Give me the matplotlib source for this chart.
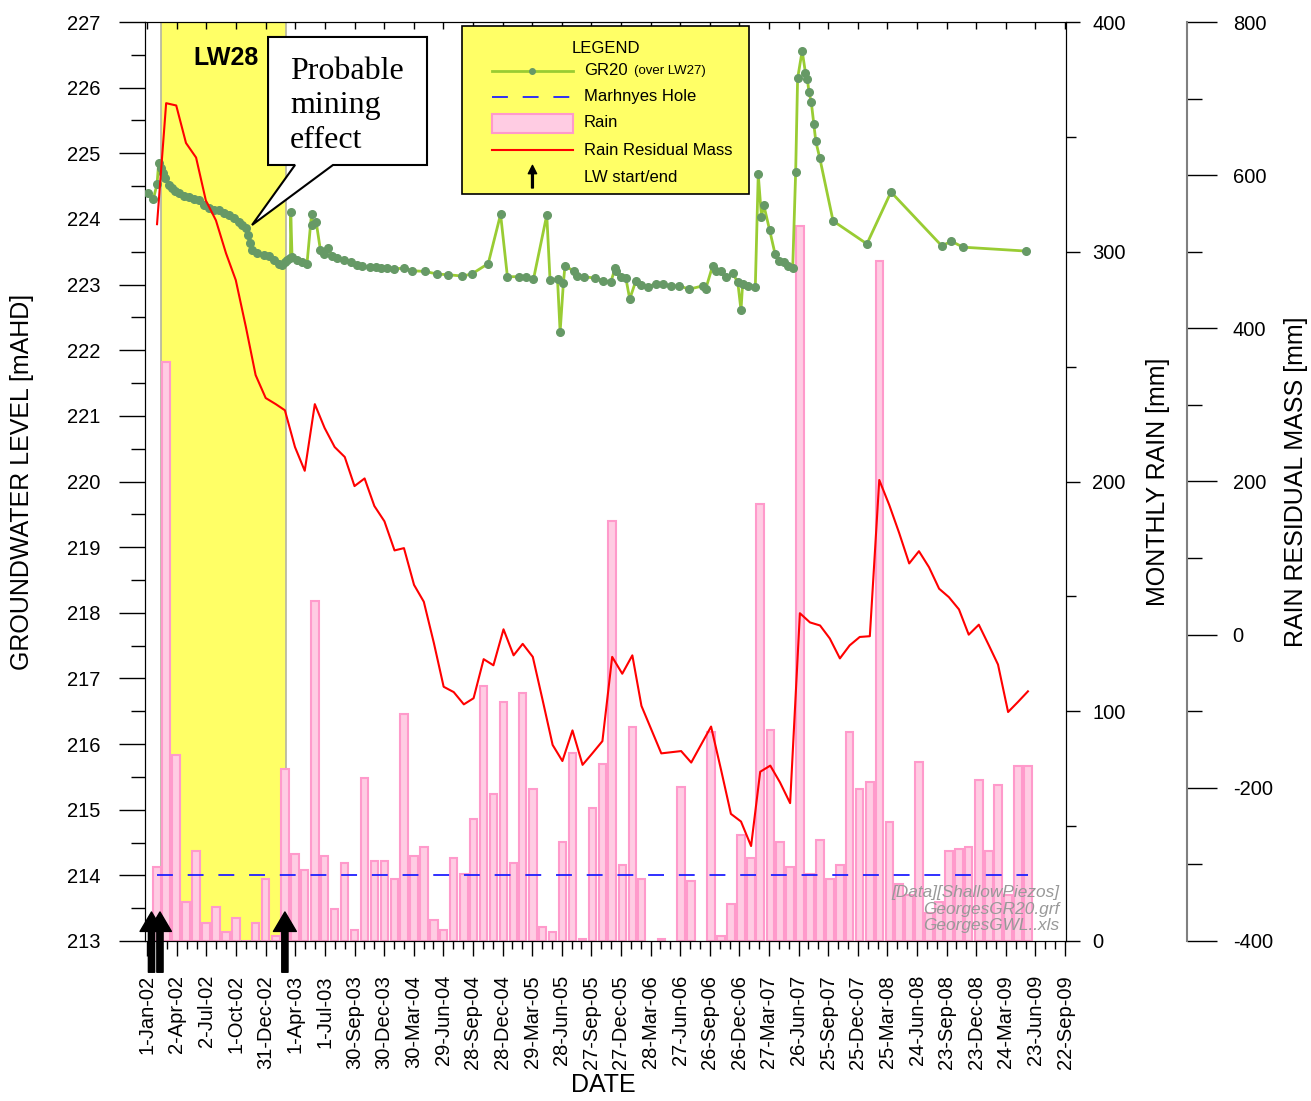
import numpy as np
import pandas as pd
import matplotlib
matplotlib.use("Agg")
import matplotlib.pyplot as plt
import matplotlib.dates as mdates
from matplotlib.patches import Rectangle, Polygon
from matplotlib.lines import Line2D
from matplotlib.ticker import MultipleLocator, FixedLocator, FuncFormatter

plt.rcParams['font.family'] = ['Liberation Sans', 'DejaVu Sans']
plt.rcParams['axes.unicode_minus'] = False

# monthly rain [mm], one value per month from Jan 2002 (None = no record)
rain_start = '2002-01-31'
rain_mm = [32, 252, 81, 17, 39, 8, 15, 4, 10, 0, 8, 27,
           2, 75, 38, 31, 148, 37, 14, 34, 5, 71, 35, 35,
           27, 99, 37, 41, 9, 5, 36, 29, 53, 111, 64, 104,
           34, 108, 66, 6, 4, 43, 82, 1, 58, 77, 183, 33,
           93, 27, None, 1, None, 67, 26, None, 91, 2, 16, 46,
           36, 190, 92, 43, 32, 311, 29, 44, 27, 33, 91, 66,
           69, 296, 52, 25, 20, 78, 12, 17, 39, 40, 41, 70,
           39, 68, 20, 76, 76]

# rain residual mass [mm], same months
residual_mm = [536, 694, 691, 642, 623, 567, 541, 498, 463, 402, 339, 309,
               301, 293, 245, 214, 301, 270, 245, 232, 194, 204, 168, 148,
               110, 113, 65, 43, -11, -68, -75, -91, -83, -32, -40, 7,
               -27, -12, -29, -85, -144, -165, -125, -170, -155, -139, -29, -51,
               -27, -93, None, -155, None, -152, -167, None, -120, -177, -234, -244,
               -276, -179, -171, -193, -220, 28, 16, 12, -5, -31, -14, -3,
               -2, 202, 169, 133, 93, 109, 88, 60, 49, 33, 0, 13,
               -14, -39, -101, -88, -74]

# GR20 piezometer, days since 1-Jan-2002 and level [mAHD]
gr20_day = [1, 19, 30, 35, 42, 48, 55, 66, 76, 86,
            96, 112, 127, 143, 158, 173, 189, 204, 219, 235,
            250, 266, 281, 291, 302, 309, 315, 322, 338, 358,
            373, 389, 404, 415, 422, 430, 440, 441, 445, 461,
            476, 491, 505, 507, 519, 532, 543, 555, 568, 584,
            604, 625, 645, 661, 686, 702, 717, 738, 758, 789,
            815, 855, 891, 924, 968, 997, 1048, 1086, 1107, 1143,
            1163, 1187, 1228, 1238, 1261, 1269, 1279, 1284, 1312, 1322,
            1341, 1376, 1402, 1425, 1438, 1440, 1455, 1471, 1483, 1502,
            1517, 1538, 1563, 1584, 1609, 1635, 1666, 1707, 1717, 1738,
            1748, 1763, 1779, 1799, 1815, 1825, 1830, 1845, 1869, 1878,
            1888, 1895, 1913, 1930, 1943, 1956, 1968, 1984, 1993, 1999,
            2013, 2023, 2029, 2034, 2041, 2049, 2055, 2067, 2108, 2212,
            2286, 2442, 2472, 2507, 2702]
gr20_level = [224.40, 224.31, 224.53, 224.85, 224.77, 224.70, 224.63, 224.52, 224.47, 224.42,
              224.39, 224.35, 224.34, 224.31, 224.29, 224.21, 224.16, 224.14, 224.14, 224.09,
              224.06, 224.01, 223.96, 223.91, 223.86, 223.76, 223.63, 223.53, 223.48, 223.45,
              223.43, 223.37, 223.32, 223.30, 223.35, 223.37, 223.40, 224.10, 223.42, 223.37,
              223.35, 223.32, 224.08, 223.91, 223.96, 223.53, 223.47, 223.55, 223.44, 223.40,
              223.37, 223.35, 223.30, 223.28, 223.27, 223.27, 223.25, 223.26, 223.24, 223.25,
              223.21, 223.20, 223.16, 223.15, 223.13, 223.16, 223.32, 224.07, 223.12, 223.12,
              223.12, 223.08, 224.06, 223.07, 223.08, 222.28, 223.02, 223.29, 223.20, 223.13,
              223.12, 223.10, 223.06, 223.04, 223.25, 223.20, 223.12, 223.10, 222.78, 223.06,
              222.99, 222.97, 223.01, 223.01, 222.98, 222.98, 222.93, 222.98, 222.94, 223.29,
              223.21, 223.20, 223.11, 223.17, 223.04, 222.61, 223.01, 222.98, 222.97, 224.68,
              224.03, 224.21, 223.83, 223.46, 223.36, 223.35, 223.29, 223.26, 224.71, 226.14,
              226.56, 226.23, 226.13, 225.93, 225.78, 225.44, 225.18, 224.93, 223.97, 223.62,
              224.41, 223.59, 223.66, 223.57, 223.51]

marhnyes_level = 214.0
lw_arrows = ['2002-01-14', '2002-02-09', '2003-02-28']
lw28_start, lw28_end = '2002-02-11', '2003-03-02'

tick_start = '2002-01-01'
n_ticks = 32
x_range = ('2001-12-25', '2009-09-25')

# ---- prepare
t0 = pd.Timestamp(tick_start)
rain_dates = pd.date_range(rain_start, periods=len(rain_mm), freq=pd.offsets.MonthEnd())
rain_x = mdates.date2num(rain_dates.to_pydatetime())
rain = np.array([np.nan if v is None else v for v in rain_mm], dtype=float)
res = np.array([np.nan if v is None else v for v in residual_mm], dtype=float)
res_ok = ~np.isnan(res)
gr_x = mdates.date2num((t0 + pd.to_timedelta(gr20_day, unit='D')).to_pydatetime())
tick_x = mdates.date2num(pd.date_range(tick_start, periods=n_ticks, freq='91D').to_pydatetime())
minor_x = np.sort(np.concatenate([tick_x + 91 / 3, tick_x + 182 / 3]))

def dnum(s):
    return mdates.date2num(pd.Timestamp(s).to_pydatetime())

# ---- figure
fig = plt.figure(figsize=(13.11, 11.01), dpi=100)
ax = fig.add_axes([145 / 1311, 1 - 941 / 1101, 921 / 1311, 919 / 1101])
ax_rain = ax.twinx()
ax_res = ax.twinx()
ax_rain.set_zorder(1)
ax.set_zorder(2)
ax_res.set_zorder(3)
ax.patch.set_visible(False)
ax_res.patch.set_visible(False)
ax_rain.patch.set_visible(True)
ax_rain.patch.set_facecolor('white')

# LW28 panel and rain bars
ax_rain.axvspan(dnum(lw28_start), dnum(lw28_end), facecolor='#FFFF66',
                edgecolor='#B4B4A0', lw=1.2, zorder=0)
ax_rain.bar(rain_x, rain, width=23, facecolor='#FFCCE3', edgecolor='#FF9ACB',
            lw=1.5, zorder=2)
ax_rain.set_ylim(0, 400)
ax_rain.yaxis.set_major_locator(MultipleLocator(100))
ax_rain.yaxis.set_minor_locator(MultipleLocator(50))
ax_rain.tick_params(axis='y', which='major', direction='out', length=10, width=1,
                    labelsize=14.5, pad=9)
ax_rain.tick_params(axis='y', which='minor', direction='out', length=7, width=1)

# groundwater
blue_dash = (8.8, 8.2)
ax.plot([rain_x[0], rain_x[-1]], [marhnyes_level] * 2, color='#2020FF', lw=1.3,
        dashes=blue_dash, zorder=3)
ax.plot(gr_x, gr20_level, color='#99CC33', lw=2, marker='o', ms=5.5,
        mfc='#669966', mec='#669966', zorder=4)
ax.set_ylim(213, 227)
ax.yaxis.set_major_locator(MultipleLocator(1))
ax.yaxis.set_minor_locator(MultipleLocator(0.5))
ax.tick_params(axis='y', which='major', direction='out', length=19, width=1,
               labelsize=14.5, pad=13)
ax.tick_params(axis='y', which='minor', direction='out', length=10, width=1)

ax.set_xlim(dnum(x_range[0]), dnum(x_range[1]))
ax.xaxis.set_major_locator(FixedLocator(tick_x))
ax.xaxis.set_minor_locator(FixedLocator(minor_x))

def date_fmt(v, pos):
    d = mdates.num2date(v)
    return f"{d.day}-{d:%b-%y}"

ax.xaxis.set_major_formatter(FuncFormatter(date_fmt))
ax.tick_params(axis='x', which='major', direction='out', length=11, width=1,
               labelsize=14.5, pad=13.5, labelrotation=90)
ax.tick_params(axis='x', which='minor', direction='out', length=5.5, width=1)

# top ticks through the rain axes
ax_rain.xaxis.set_visible(True)
ax_rain.xaxis.set_ticks_position('top')
ax_rain.tick_params(axis='x', which='major', direction='in', length=5, width=1,
                    labeltop=False, labelbottom=False)
ax_rain.tick_params(axis='x', which='minor', length=0)

# LW arrows
for d in lw_arrows:
    ax.annotate('', xy=(dnum(d), 0.0316), xycoords=('data', 'axes fraction'),
                xytext=(dnum(d), -0.034), textcoords=('data', 'axes fraction'),
                arrowprops=dict(facecolor='black', edgecolor='black', width=4.5,
                                headwidth=16.5, headlength=14, shrink=0),
                annotation_clip=False, zorder=6)

# rain residual mass
ax_res.plot(rain_x[res_ok], res[res_ok], color='#FF0000', lw=1.5, zorder=5)
ax_res.set_ylim(-400, 800)
ax_res.yaxis.set_major_locator(MultipleLocator(200))
ax_res.yaxis.set_minor_locator(MultipleLocator(100))
ax_res.spines['right'].set_position(('axes', 1.1311))
ax_res.spines['right'].set_color('#808080')
ax_res.spines['right'].set_linewidth(1.5)
for s in ['left', 'top', 'bottom']:
    ax_res.spines[s].set_visible(False)
ax_res.tick_params(axis='y', which='major', direction='out', length=21.6, width=1,
                   labelsize=14.5, pad=11.5)
ax_res.tick_params(axis='y', which='minor', direction='out', length=10.8, width=1)

# axis titles
ax.text(-0.1336, 0.5, 'GROUNDWATER LEVEL [mAHD]', transform=ax.transAxes,
        rotation=90, ha='center', va='center', fontsize=18)
ax.text(1.0994, 0.5, 'MONTHLY RAIN [mm]', transform=ax.transAxes,
        rotation=90, ha='center', va='center', fontsize=18)
ax.text(1.2497, 0.5, 'RAIN RESIDUAL MASS [mm]', transform=ax.transAxes,
        rotation=90, ha='center', va='center', fontsize=18)
ax.text(0.4973, -0.1567, 'DATE', transform=ax.transAxes,
        ha='center', va='center', fontsize=18)

# annotations
T = ax_res.transAxes
ax_res.text(0.0879, 0.9608, 'LW28', transform=T, ha='center', va='center',
            fontsize=18, fontweight='bold')
callout = [(0.1336, 0.9837), (0.3062, 0.9837), (0.3062, 0.8444), (0.2041, 0.8444),
           (0.1162, 0.7791), (0.1629, 0.8444), (0.1336, 0.8444)]
ax_res.add_patch(Polygon(callout, closed=True, transform=T, facecolor='white',
                         edgecolor='black', lw=1.5, zorder=7))
ax_res.text(0.1574, 0.9624, 'Probable\nmining\neffect', transform=T, ha='left',
            va='top', fontsize=23, family='Liberation Serif', linespacing=1.25,
            zorder=8)
ax_res.text(0.9924, 0.0348, '[Data][ShallowPiezos]\nGeorgesGR20.grf\nGeorgesGWL..xls',
            transform=T, ha='right', va='center', multialignment='right',
            fontsize=12.4, style='italic', color='#999999', linespacing=1.1, zorder=8)

# legend box
ax_res.add_patch(Rectangle((0.3442, 0.8128), 0.3116, 0.1828, transform=T,
                           facecolor='#FFFF66', edgecolor='black', lw=1.2, zorder=7))
hx0, hx1, hxm, tx = 0.3768, 0.4647, 0.4207, 0.4767
rows = [0.9467, 0.9184, 0.8901, 0.8607, 0.8313]
ax_res.text(0.5005, 0.9710, 'LEGEND', transform=T, ha='center', va='center',
            fontsize=12, zorder=8)
ax_res.add_line(Line2D([hx0, hx1], [rows[0]] * 2, transform=T, color='#99CC33',
                       lw=2, zorder=8))
ax_res.add_line(Line2D([hxm], [rows[0]], transform=T, marker='o', ms=4,
                       color='#669966', zorder=9))
ax_res.add_line(Line2D([hx0, hx1], [rows[1]] * 2, transform=T, color='#2020FF',
                       lw=1.3, dashes=blue_dash, zorder=8))
ax_res.add_patch(Rectangle((hx0, 0.8792), hx1 - hx0, 0.0207, transform=T,
                           facecolor='#FFCCE3', edgecolor='#FF9ACB', lw=1.5, zorder=8))
ax_res.add_line(Line2D([hx0, hx1], [rows[3]] * 2, transform=T, color='#FF0000',
                       lw=1.5, zorder=8))
ax_res.annotate('', xy=(hxm, 0.8440), xycoords=T, xytext=(hxm, 0.8194), textcoords=T,
                arrowprops=dict(facecolor='black', edgecolor='black', width=1.3,
                                headwidth=6, headlength=6, shrink=0), zorder=9)
ax_res.text(tx, rows[0], 'GR20', transform=T, ha='left', va='center', fontsize=12, zorder=8)
ax_res.text(0.5310, rows[0], '(over LW27)', transform=T, ha='left', va='center',
            fontsize=9.5, zorder=8)
ax_res.text(tx, rows[1], 'Marhnyes Hole', transform=T, ha='left', va='center',
            fontsize=12, zorder=8)
ax_res.text(tx, rows[2], 'Rain', transform=T, ha='left', va='center', fontsize=12, zorder=8)
ax_res.text(tx, rows[3], 'Rain Residual Mass', transform=T, ha='left', va='center',
            fontsize=12, zorder=8)
ax_res.text(tx, rows[4], 'LW start/end', transform=T, ha='left', va='center',
            fontsize=12, zorder=8)

fig.savefig('out.png', dpi=100)
